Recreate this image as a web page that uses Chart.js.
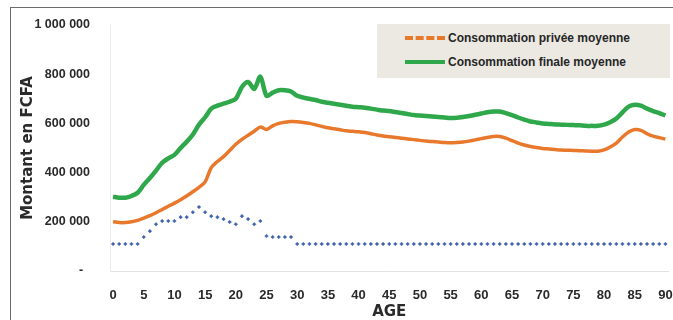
<!DOCTYPE html>
<html>
<head>
<meta charset="utf-8">
<script src="https://cdn.jsdelivr.net/npm/chart.js@4.4.1/dist/chart.umd.min.js"></script>
<style>
  html, body { margin: 0; padding: 0; background: #fff; }
  #wrap { position: relative; width: 673px; height: 320px; overflow: hidden; }
  #frame { position: absolute; left: 10px; top: 7px; right: -5px; bottom: -5px; border-top: 1px solid #6a6a6a; border-left: 1px solid #6a6a6a; pointer-events: none; }
  #legend { position: absolute; left: 377px; top: 24px; width: 293px; height: 54px; background: #ece9e2; }
  .row { position: absolute; left: 28px; height: 20px; display: flex; align-items: center; white-space: nowrap; color: #262626; font-weight: bold; }
  .sw { width: 40px; height: 0; margin-right: 3px; }
</style>
</head>
<body>
<div id="wrap">
  <canvas id="c" width="673" height="320"></canvas>
  <div id="legend"></div>
  <div id="frame"></div>
</div>
<script>
const ages = [0,1,2,3,4,5,6,7,8,9,10,11,12,13,14,15,16,17,18,19,20,21,22,23,24,25,26,27,28,29,30,31,32,33,34,35,36,37,38,39,40,41,42,43,44,45,46,47,48,49,50,51,52,53,54,55,56,57,58,59,60,61,62,63,64,65,66,67,68,69,70,71,72,73,74,75,76,77,78,79,80,81,82,83,84,85,86,87,88,89,90];

const consoPrivee = [
  200000,197000,197000,200000,206000,215000,225000,237000,250000,263000,
  276000,290000,305000,322000,340000,362000,420000,445000,465000,490000,
  515000,535000,552000,568000,585000,575000,590000,600000,605000,608000,
  607000,604000,600000,594000,588000,582000,578000,574000,570000,568000,
  566000,563000,558000,553000,549000,546000,543000,540000,537000,534000,
  531000,528000,526000,524000,522000,521000,522000,524000,528000,533000,
  538000,543000,547000,547000,540000,530000,520000,512000,506000,502000,
  498000,496000,494000,492000,491000,490000,489000,488000,487000,487000,
  492000,504000,520000,545000,565000,575000,572000,558000,548000,542000,
  536000];

const consoFinale = [
  302000,298000,298000,305000,318000,350000,378000,408000,440000,458000,
  472000,500000,525000,555000,595000,625000,660000,672000,680000,688000,
  700000,748000,768000,740000,790000,712000,725000,735000,735000,730000,
  712000,705000,700000,695000,688000,684000,680000,676000,672000,668000,
  666000,664000,660000,656000,652000,650000,646000,642000,638000,634000,
  632000,630000,628000,626000,624000,622000,623000,626000,630000,635000,
  640000,645000,648000,648000,642000,634000,624000,615000,608000,604000,
  600000,598000,596000,595000,594000,593000,592000,590000,590000,590000,
  595000,605000,620000,645000,668000,676000,672000,660000,650000,642000,
  632000];

const troisieme = [
  110000,110000,110000,110000,110000,138000,162000,190000,203000,203000,
  203000,219000,219000,239000,260000,239000,223000,219000,211000,199000,
  190000,223000,211000,190000,203000,142000,138000,138000,138000,138000,
  110000,110000,110000,110000,110000,110000,110000,110000,110000,110000,
  110000,110000,110000,110000,110000,110000,110000,110000,110000,110000,
  110000,110000,110000,110000,110000,110000,110000,110000,110000,110000,
  110000,110000,110000,110000,110000,110000,110000,110000,110000,110000,
  110000,110000,110000,110000,110000,110000,110000,110000,110000,110000,
  110000,110000,110000,110000,110000,110000,110000,110000,110000,110000,
  110000];

const xTickValues = [0,5,10,15,20,25,30,35,40,45,50,55,60,65,70,75,80,85,90];
const yTickValues = [0,200000,400000,600000,800000,1000000];
const yTickLabels = ['-  ','200 000','400 000','600 000','800 000','1 000 000'];

const seriesLabels = ['Consommation privée moyenne','Consommation finale moyenne'];
const yTitle = 'Montant en FCFA';
const xTitle = 'AGE';

const ORANGE = '#e8782b', GREEN = '#2fa84c', BLUE = '#3e62ab';

function pts(arr) { return ages.map((a, i) => ({ x: a, y: arr[i] })); }

// font detection for condensed legend font
const mc = document.createElement('canvas').getContext('2d');
mc.font = 'bold 20px "Liberation Sans Narrow", monospace';
const wN = mc.measureText('Consommation').width;
mc.font = 'bold 20px monospace';
const wM = mc.measureText('Consommation').width;
const hasNarrow = Math.abs(wN - wM) > 0.5;
const legendFont = hasNarrow ? 'bold 14.5px "Liberation Sans Narrow"' : 'bold 12px "Liberation Sans", Arial';

const legend = document.getElementById('legend');
[[ORANGE, true, 14], [GREEN, false, 38]].forEach((s, i) => {
  const row = document.createElement('div');
  row.className = 'row';
  row.style.top = (s[2] - 10) + 'px';
  row.style.font = legendFont;
  const sw = document.createElement('div');
  sw.className = 'sw';
  sw.style.borderTop = s[1] ? '4px dashed ' + s[0] : '4.5px solid ' + s[0];
  const tx = document.createElement('span');
  tx.textContent = seriesLabels[i];
  row.appendChild(sw); row.appendChild(tx);
  legend.appendChild(row);
});

new Chart(document.getElementById('c'), {
  type: 'line',
  data: {
    datasets: [
      { label: seriesLabels[1], data: pts(consoFinale), borderColor: GREEN, borderWidth: 4.5, pointRadius: 0, tension: 0.3, fill: false },
      { label: seriesLabels[0], data: pts(consoPrivee), borderColor: ORANGE, borderWidth: 3.5, pointRadius: 0, tension: 0.3, fill: false },
      { label: '', data: pts(troisieme), showLine: false, pointRadius: 1.8, pointStyle: 'rectRot', pointBackgroundColor: BLUE, pointBorderColor: BLUE, pointBorderWidth: 0.5 }
    ]
  },
  options: {
    responsive: false,
    animation: false,
    events: [],
    layout: { padding: { left: 0, right: 3, top: 25, bottom: 0 } },
    plugins: { legend: { display: false }, tooltip: { enabled: false } },
    scales: {
      x: {
        type: 'linear', min: -0.5, max: 90.5,
        afterBuildTicks: s => { s.ticks = xTickValues.map(v => ({ value: v })); },
        afterFit: s => { s.height = 49; s.paddingLeft = 0; s.paddingRight = 0; },
        grid: { display: false, drawTicks: false },
        border: { display: true, color: '#e2e2e2', width: 1 },
        ticks: { padding: 17, maxRotation: 0, autoSkip: false, color: '#2a2a2a', font: { family: '"Liberation Sans", Arial', weight: 'bold', size: 13 }, callback: v => String(v) },
        title: { display: true, text: xTitle, color: '#2a2a2a', padding: { top: 0, bottom: 0 }, font: { family: '"DejaVu Sans"', weight: 'bold', size: 15, lineHeight: 1.0 } }
      },
      y: {
        min: 0, max: 1000000,
        afterBuildTicks: s => { s.ticks = yTickValues.map(v => ({ value: v })); },
        afterFit: s => { s.width = 110; s.paddingTop = 0; s.paddingBottom = 0; },
        grid: { display: false, drawTicks: false },
        border: { display: true, color: '#ececec', width: 1 },
        ticks: { padding: 20, color: '#2a2a2a', font: { family: '"Liberation Sans", Arial', weight: 'bold', size: 12.5 }, callback: v => yTickLabels[yTickValues.indexOf(v)] },
        title: { display: true, text: yTitle, color: '#2a2a2a', padding: { top: 19, bottom: 0 }, font: { family: '"DejaVu Sans"', weight: 'bold', size: 15 } }
      }
    }
  }
});
</script>
</body>
</html>
